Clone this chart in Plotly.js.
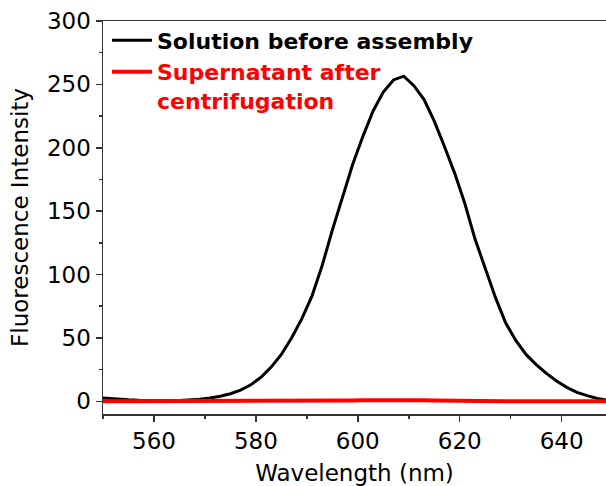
<!DOCTYPE html>
<html>
<head>
<meta charset="utf-8">
<script src="https://cdn.plot.ly/plotly-3.0.1.min.js"></script>
<style>html,body{margin:0;padding:0;background:#fff;}#chart{width:606px;height:486px;}</style>
</head>
<body>
<div id="chart"></div>
<script>
// Wavelength (nm)
const wavelength = [549,551,553,555,557,559,561,563,565,567,569,571,573,575,577,579,581,583,585,587,589,591,593,595,597,599,601,603,605,607,609,611,613,615,617,619,621,623,625,627,629,631,633,635,637,639,641,643,645,647,649];
// Solution before assembly
const beforeAssembly = [3.0,2.3,1.7,1.2,0.8,0.6,0.5,0.5,0.7,1.1,1.7,2.7,4.0,6.0,8.8,13.0,19,27,37,50,65,83,107,135,161,187,209,229,244,253.5,256.5,249,238,221,201,180,156,128,105,82,62,48,37,29,22,16,11,7,4.5,2.2,0.8];
// Supernatant after centrifugation
const supernatant = [0,0,0,0,0,0,0,0,0,0,0,0,0,0,0,0,0,0.1,0.1,0.2,0.2,0.3,0.4,0.5,0.6,0.7,0.8,0.9,1.0,1.0,1.0,0.9,0.8,0.7,0.5,0.4,0.3,0.2,0.2,0.1,0.1,0,0,0,0,0,0,0,0,0,0];
const xTicks = [560,580,600,620,640];
const yTicks = [0,50,100,150,200,250,300];

const FONT = "DejaVu Sans";
const traces = [
  {x: wavelength, y: beforeAssembly, type: 'scatter', mode: 'lines',
   name: 'Solution before assembly',
   line: {color: '#000000', width: 3}},
  {x: wavelength, y: supernatant, type: 'scatter', mode: 'lines',
   name: '<span style="color:#ff0000">Supernatant after</span><br><span style="color:#ff0000">centrifugation</span>',
   line: {color: '#ff0000', width: 4}}
];
const axisCommon = {
  showline: true, linecolor: '#333333', linewidth: 1.5,
  ticks: 'outside', ticklen: 6, tickwidth: 1.5, tickcolor: '#333333',
  showgrid: false, zeroline: false,
  tickfont: {family: FONT, size: 23, color: '#000000'}
};
const layout = {
  width: 606, height: 486,
  paper_bgcolor: '#ffffff', plot_bgcolor: '#ffffff',
  margin: {l: 103, r: 0, t: 21, b: 72},
  showlegend: true,
  legend: {x: 0.008, y: 1.004, xanchor: 'left', yanchor: 'top', valign: 'top',
           itemwidth: 40,
           bgcolor: 'rgba(0,0,0,0)', borderwidth: 0,
           font: {family: FONT, size: 22, color: '#000000', weight: 'bold'}},
  xaxis: Object.assign({}, axisCommon, {
    range: [550, 648.7], tickvals: xTicks, ticktext: xTicks.map(String), mirror: true,
    minor: {dtick: 10, tick0: 550, ticks: 'outside', ticklen: 3, tickwidth: 1.5, tickcolor: '#333333'},
    title: {text: 'Wavelength (nm)', standoff: 12, font: {family: FONT, size: 23, color: '#000000'}}
  }),
  yaxis: Object.assign({}, axisCommon, {
    range: [-10, 300], tickvals: yTicks, ticktext: yTicks.map(String),
    minor: {dtick: 25, tick0: 0, ticks: 'outside', ticklen: 3, tickwidth: 1.5, tickcolor: '#333333'},
    title: {text: 'Fluorescence Intensity', standoff: 12, font: {family: FONT, size: 23, color: '#000000'}}
  })
};
Plotly.newPlot('chart', traces, layout, {displayModeBar: false, staticPlot: true});
</script>
</body>
</html>
